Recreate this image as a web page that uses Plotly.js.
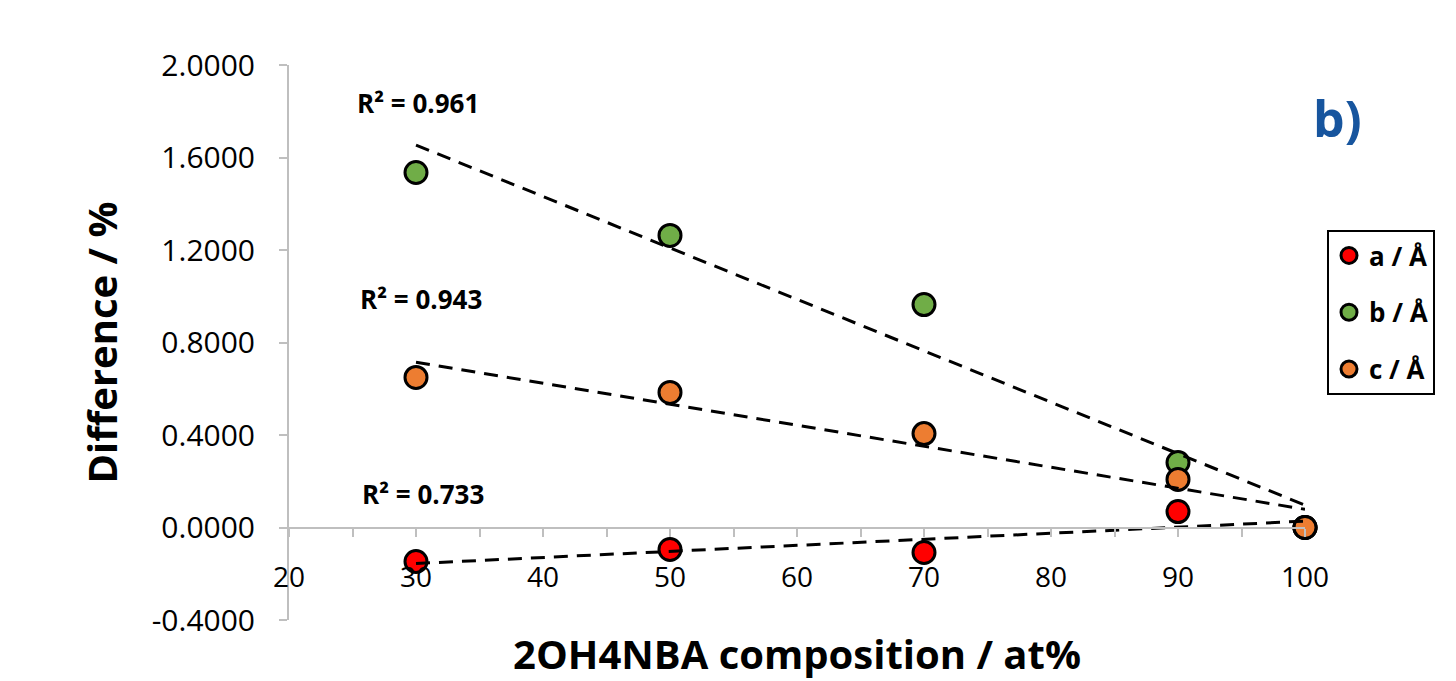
<!DOCTYPE html>
<html><head><meta charset="utf-8">
<script src="https://cdn.plot.ly/plotly-3.0.1.min.js"></script>
<style>html,body{margin:0;padding:0;background:#fff;}#chart{width:1456px;height:681px;}</style>
</head><body><div id="chart"></div>
<script>
// ---- data ----
const composition = [30, 50, 70, 90, 100];
const aDiff = [-0.147, -0.095, -0.108, 0.069, 0.0];
const bDiff = [1.535, 1.263, 0.964, 0.281, 0.0];
const cDiff = [0.649, 0.584, 0.406, 0.208, 0.0];
const seriesNames = ['a / Å', 'b / Å', 'c / Å'];
const seriesColors = ['#ff0000', '#70ad47', '#ed7d31'];
const rSquaredLabels = ['R² = 0.733', 'R² = 0.961', 'R² = 0.943'];
const yTickValues = [-0.4, 0, 0.4, 0.8, 1.2, 1.6, 2.0];
const yTickLabels = yTickValues.map(v => v.toFixed(4));
const xTickValues = [20, 30, 40, 50, 60, 70, 80, 90, 100];
const xMinorTickValues = [25, 35, 45, 55, 65, 75, 85, 95];

// ---- linear least-squares trend lines computed from the data ----
function linFit(xs, ys) {
  const n = xs.length;
  const mx = xs.reduce((s, v) => s + v, 0) / n;
  const my = ys.reduce((s, v) => s + v, 0) / n;
  let sxy = 0, sxx = 0;
  for (let i = 0; i < n; i++) { sxy += (xs[i] - mx) * (ys[i] - my); sxx += (xs[i] - mx) ** 2; }
  const slope = sxy / sxx, icpt = my - slope * mx;
  const x0 = Math.min(...xs), x1 = Math.max(...xs);
  return { x: [x0, x1], y: [icpt + slope * x0, icpt + slope * x1] };
}

const series = [aDiff, bDiff, cDiff];
const FONT = 'Open Sans, Lato, DejaVu Sans, sans-serif';

const traces = series.map((ys, i) => ({
  type: 'scatter', mode: 'markers', name: seriesNames[i],
  x: composition, y: ys, legendgroup: 'g' + i, cliponaxis: false,
  marker: { size: 22, color: seriesColors[i], line: { color: '#000', width: 3 } },
  xaxis: 'x', yaxis: 'y'
}));
series.forEach((ys, i) => {
  const f = linFit(composition, ys);
  traces.push({
    type: 'scatter', mode: 'lines', x: f.x, y: f.y, showlegend: false, hoverinfo: 'skip', cliponaxis: false,
    line: { color: '#000', width: 3, dash: '14px,9px' }, xaxis: 'x', yaxis: 'y'
  });
});
// empty trace to register the bottom title-carrying axis
traces.push({ type: 'scatter', mode: 'markers', x: [], y: [], showlegend: false, hoverinfo: 'skip', xaxis: 'x2', yaxis: 'y' });

const layout = {
  width: 1456, height: 681,
  margin: { l: 289, r: 151, t: 65, b: 61 },
  paper_bgcolor: '#fff', plot_bgcolor: '#fff',
  font: { family: FONT, color: '#000' },
  showlegend: true,
  xaxis: {
    range: [20, 100], anchor: 'free', position: 0.4 / 2.4,
    showline: true, linecolor: '#bfbfbf', linewidth: 2,
    ticks: 'outside', ticklen: 8, tickwidth: 2, tickcolor: '#bfbfbf',
    tickmode: 'array', tickvals: xTickValues,
    minor: { tickmode: 'array', tickvals: xMinorTickValues, ticks: 'outside', ticklen: 8, tickwidth: 2, tickcolor: '#bfbfbf', showgrid: false },
    ticklabelstandoff: 17,
    tickfont: { size: 28, family: FONT, color: '#000' },
    showgrid: false, zeroline: false, fixedrange: true
  },
  xaxis2: {
    range: [20, 100], overlaying: 'x', anchor: 'y', side: 'bottom',
    showline: false, showticklabels: false, ticks: '', showgrid: false, zeroline: false,
    title: { text: '<b>2OH4NBA composition / at%</b>', font: { size: 40, family: FONT, color: '#000' }, standoff: 20 }
  },
  yaxis: {
    range: [-0.4, 2.0], anchor: 'x',
    showline: true, linecolor: '#bfbfbf', linewidth: 2,
    ticks: 'outside', ticklen: 8, tickwidth: 2, tickcolor: '#bfbfbf',
    tickmode: 'array', tickvals: yTickValues, ticktext: yTickLabels,
    ticklabelstandoff: 18,
    tickfont: { size: 30, family: FONT, color: '#000' },
    showgrid: false, zeroline: false,
    title: { text: '<b>Difference / %</b>', font: { size: 40, family: FONT, color: '#000' }, standoff: 22 }
  },
  legend: {
    x: (1327 - 289) / 1016, y: (620 - 230) / 555, xanchor: 'left', yanchor: 'top',
    bgcolor: '#fff', bordercolor: '#000', borderwidth: 2,
    font: { size: 26, family: FONT, color: '#000', weight: 'bold' },
    tracegroupgap: 20, traceorder: 'grouped', itemwidth: 30
  },
  annotations: [
    { text: '<b>' + rSquaredLabels[1] + '</b>', x: 25.2, y: 1.834, xref: 'x', yref: 'y', xanchor: 'left', yanchor: 'middle', showarrow: false, font: { size: 26, family: FONT, color: '#000' } },
    { text: '<b>' + rSquaredLabels[2] + '</b>', x: 25.4, y: 0.990, xref: 'x', yref: 'y', xanchor: 'left', yanchor: 'middle', showarrow: false, font: { size: 26, family: FONT, color: '#000' } },
    { text: '<b>' + rSquaredLabels[0] + '</b>', x: 25.6, y: 0.143, xref: 'x', yref: 'y', xanchor: 'left', yanchor: 'middle', showarrow: false, font: { size: 26, family: FONT, color: '#000' } },
    { text: '<b>b)</b>', x: (1337 - 289) / 1016, y: (620 - 118) / 555, xref: 'paper', yref: 'paper', xanchor: 'center', yanchor: 'middle', showarrow: false, font: { size: 50, family: FONT, color: '#17559e' } }
  ]
};

Plotly.newPlot('chart', traces, layout, { displayModeBar: false, staticPlot: true });
</script>
</body></html>
